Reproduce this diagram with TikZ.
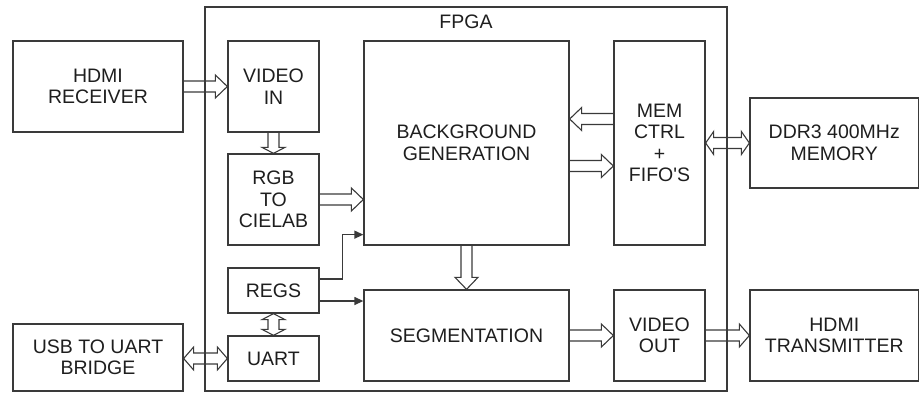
\documentclass[tikz,border=0pt]{standalone}
\usepackage{fontspec}
\setmainfont{Liberation Sans}
\usetikzlibrary{calc,arrows.meta}

\definecolor{edge}{HTML}{3A3A3A}
\definecolor{ink}{HTML}{1E1E1E}

% hollow block-arrow geometry
\newcommand\fsw{5.5pt}   % half width of the shaft
\newcommand\fhw{11.5pt}  % half width of the head
\tikzset{
  fat head/.store in=\fhl, fat head=12pt,
  % horizontal hollow arrow, one head
  hfat/.style={to path={let \p1=(\tikztostart), \p2=(\tikztotarget), \n1={sign(\x2-\x1)} in
    ({\x1},{\y1+\fsw}) -- ({\x2-\n1*\fhl},{\y1+\fsw}) -- ({\x2-\n1*\fhl},{\y1+\fhw}) -- ({\x2},{\y1})
    -- ({\x2-\n1*\fhl},{\y1-\fhw}) -- ({\x2-\n1*\fhl},{\y1-\fsw}) -- ({\x1},{\y1-\fsw})}},
  % horizontal hollow arrow, two heads
  hfatb/.style={to path={let \p1=(\tikztostart), \p2=(\tikztotarget), \n1={sign(\x2-\x1)} in
    ({\x1},{\y1}) -- ({\x1+\n1*\fhl},{\y1+\fhw}) -- ({\x1+\n1*\fhl},{\y1+\fsw})
    -- ({\x2-\n1*\fhl},{\y1+\fsw}) -- ({\x2-\n1*\fhl},{\y1+\fhw}) -- ({\x2},{\y1})
    -- ({\x2-\n1*\fhl},{\y1-\fhw}) -- ({\x2-\n1*\fhl},{\y1-\fsw})
    -- ({\x1+\n1*\fhl},{\y1-\fsw}) -- ({\x1+\n1*\fhl},{\y1-\fhw}) -- cycle}},
  % vertical hollow arrow, one head
  vfat/.style={to path={let \p1=(\tikztostart), \p2=(\tikztotarget), \n1={sign(\y2-\y1)} in
    ({\x1+\fsw},{\y1}) -- ({\x1+\fsw},{\y2-\n1*\fhl}) -- ({\x1+\fhw},{\y2-\n1*\fhl}) -- ({\x1},{\y2})
    -- ({\x1-\fhw},{\y2-\n1*\fhl}) -- ({\x1-\fsw},{\y2-\n1*\fhl}) -- ({\x1-\fsw},{\y1})}},
  % vertical hollow arrow, two heads
  vfatb/.style={to path={let \p1=(\tikztostart), \p2=(\tikztotarget), \n1={sign(\y2-\y1)} in
    ({\x1},{\y1}) -- ({\x1+\fhw},{\y1+\n1*\fhl}) -- ({\x1+\fsw},{\y1+\n1*\fhl})
    -- ({\x1+\fsw},{\y2-\n1*\fhl}) -- ({\x1+\fhw},{\y2-\n1*\fhl}) -- ({\x1},{\y2})
    -- ({\x1-\fhw},{\y2-\n1*\fhl}) -- ({\x1-\fsw},{\y2-\n1*\fhl})
    -- ({\x1-\fsw},{\y1+\n1*\fhl}) -- ({\x1-\fhw},{\y1+\n1*\fhl}) -- cycle}},
  blk/.style={draw=edge, line width=1.3pt, text=ink, align=center, inner sep=0pt,
    font=\fontsize{19.5}{21.5}\selectfont},
  fatline/.style={draw=edge, line width=1.1pt, line join=miter},
  thin/.style={draw=edge, line width=1.3pt, -{Triangle[length=9pt,width=8pt]}},
}

\begin{document}
\begin{tikzpicture}[x=1pt,y=-1pt]
  \useasboundingbox (0,0) rectangle (920,393);

  % FPGA outline and its title
  \node[blk, minimum width=522pt, minimum height=384pt] (fpga) at (466,199) {};
  \node[text=ink, font=\fontsize{19.5}{21.5}\selectfont, anchor=north, inner sep=0pt] (fpgat) at (466,15) {FPGA};

  % blocks
  \node[blk, minimum width=170pt, minimum height=91pt] (hdmirx) at (98,86.5) {HDMI\\RECEIVER};
  \node[blk, minimum width=91pt, minimum height=91pt] (vin) at (273.5,86.5) {VIDEO\\IN};
  \node[blk, minimum width=91pt, minimum height=91pt] (rgb) at (273.5,199.5) {RGB\\TO\\CIELAB};
  \node[blk, minimum width=91pt, minimum height=45pt] (regs) at (273.5,290.5) {REGS};
  \node[blk, minimum width=91pt, minimum height=45pt] (uart) at (273.5,358.5) {UART};
  \node[blk, minimum width=205pt, minimum height=204pt] (bg) at (466.5,143) {BACKGROUND\\GENERATION};
  \node[blk, minimum width=205pt, minimum height=91pt] (seg) at (466.5,335.5) {SEGMENTATION};
  \node[blk, minimum width=91pt, minimum height=204pt] (mem) at (659.5,143) {MEM\\CTRL\\+\\FIFO\textquotesingle S};
  \node[blk, minimum width=91pt, minimum height=91pt] (vout) at (659.5,335.5) {VIDEO\\OUT};
  \node[blk, minimum width=168.5pt, minimum height=90pt] (ddr) at (834.25,143) {DDR3 400MHz\\MEMORY};
  \node[blk, minimum width=168.5pt, minimum height=91pt] (hdmitx) at (834.25,335.5) {HDMI\\TRANSMITTER};
  \node[blk, minimum width=170pt, minimum height=67pt] (usb) at (98,357.5) {USB TO UART\\BRIDGE};

  % hollow data-path arrows
  \draw[fatline] (hdmirx.east) to[hfat] (vin.west);
  \draw[fatline, fat head=6pt] (vin.south) to[vfat] (rgb.north);
  \draw[fatline] (rgb.east) to[hfat] (rgb.east -| bg.west);
  \coordinate (memout) at ($(mem.west)+(0,-24)$);
  \draw[fatline] (memout) to[hfat] (memout -| bg.east);
  \coordinate (bgout) at ($(bg.east)+(0,23)$);
  \draw[fatline] (bgout) to[hfat] (bgout -| mem.west);
  \draw[fatline, fat head=8pt] (mem.east) to[hfatb] (mem.east -| ddr.west);
  \draw[fatline] (bg.south) to[vfat] (seg.north);
  \draw[fatline] (seg.east) to[hfat] (vout.west);
  \draw[fatline, fat head=10pt] (vout.east) to[hfat] (hdmitx.west);
  \draw[fatline, fat head=10pt] (usb.east |- uart.west) to[hfatb] (uart.west);
  \draw[fatline, fat head=6pt] (regs.south) to[vfatb] (uart.north);

  % register control lines
  \coordinate (regsa) at ($(regs.east)+(0,-11.5)$);
  \coordinate (bgin) at ($(bg.south west)+(0,-11)$);
  \draw[thin] (regsa) -- ++(23,0) |- (bgin);
  \coordinate (regsb) at ($(regs.east)+(0,10.5)$);
  \draw[thin] (regsb) -- (regsb -| seg.west);
\end{tikzpicture}
\end{document}
